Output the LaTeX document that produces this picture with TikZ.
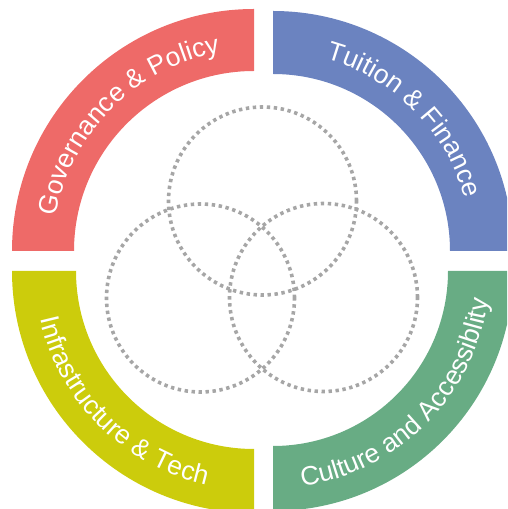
\documentclass[tikz,border=0pt]{standalone}
\usepackage{fontspec}
\setmainfont{Liberation Sans}
\usetikzlibrary{calc,decorations.text}
\definecolor{cRed}{HTML}{EE6A68}
\definecolor{cBlue}{HTML}{6B83C0}
\definecolor{cGreen}{HTML}{68AC84}
\definecolor{cYellow}{HTML}{CCCC0C}
\definecolor{cGray}{HTML}{A6A6A6}
\newcommand\arcfont{\fontsize{26.5}{26.5}\selectfont}
\begin{document}
\begin{tikzpicture}[x=1pt,y=1pt,
  venn/.style={draw=cGray, line width=3.6pt, dash pattern=on 3.4pt off 3.6pt}]
\useasboundingbox (0,0) rectangle (507,509);
\clip (0,0) rectangle (507,509);
% sector corners
\coordinate (R) at (254,258);
\coordinate (B) at (273,258);
\coordinate (Y) at (254,238);
\coordinate (G) at (273,238);
% sectors
\fill[cRed] ($(R)+(180:242)$) arc[start angle=180,end angle=90,radius=242]
  -- ($(R)+(90:180)$) arc[start angle=90,end angle=180,radius=180] -- cycle;
\fill[cBlue] ($(B)+(90:240)$) arc[start angle=90,end angle=0,radius=240]
  -- ($(B)+(0:177)$) arc[start angle=0,end angle=90,radius=177] -- cycle;
\fill[cYellow] ($(Y)+(180:242)$) arc[start angle=180,end angle=270,radius=242]
  -- ($(Y)+(270:178)$) arc[start angle=270,end angle=180,radius=178] -- cycle;
\fill[cGreen] ($(G)+(270:240)$) arc[start angle=270,end angle=360,radius=240]
  -- ($(G)+(0:175)$) arc[start angle=0,end angle=-90,radius=175] -- cycle;
% labels
\path[decorate, decoration={text along path, text align=center, text color=white,
  text={|\arcfont|Governance {\&} Policy}}]
  ($(R)+(180:201)$) arc[start angle=180,end angle=90,radius=201];
\path[decorate, decoration={text along path, text align=center, text color=white,
  text={|\arcfont|Tuition {\&} Finance}}]
  ($(B)+(90:199)$) arc[start angle=90,end angle=0,radius=199];
\path[decorate, decoration={text along path, text align=center, text color=white,
  text={|\arcfont|Infrastructure {\&} Tech}}]
  ($(Y)+(180:219)$) arc[start angle=180,end angle=270,radius=219];
\path[decorate, decoration={text along path, text align=center, text color=white,
  text={|\arcfont|Culture and Accessiblity}}]
  ($(G)+(270:217)$) arc[start angle=270,end angle=360,radius=217];
% venn circles
\coordinate (vt) at (262.5,308);
\coordinate (vl) at (200.5,211);
\coordinate (vr) at (323.5,211.5);
\draw[venn] (vt) circle[radius=94];
\draw[venn] (vl) circle[radius=94];
\draw[venn] (vr) circle[radius=94];
\end{tikzpicture}
\end{document}
